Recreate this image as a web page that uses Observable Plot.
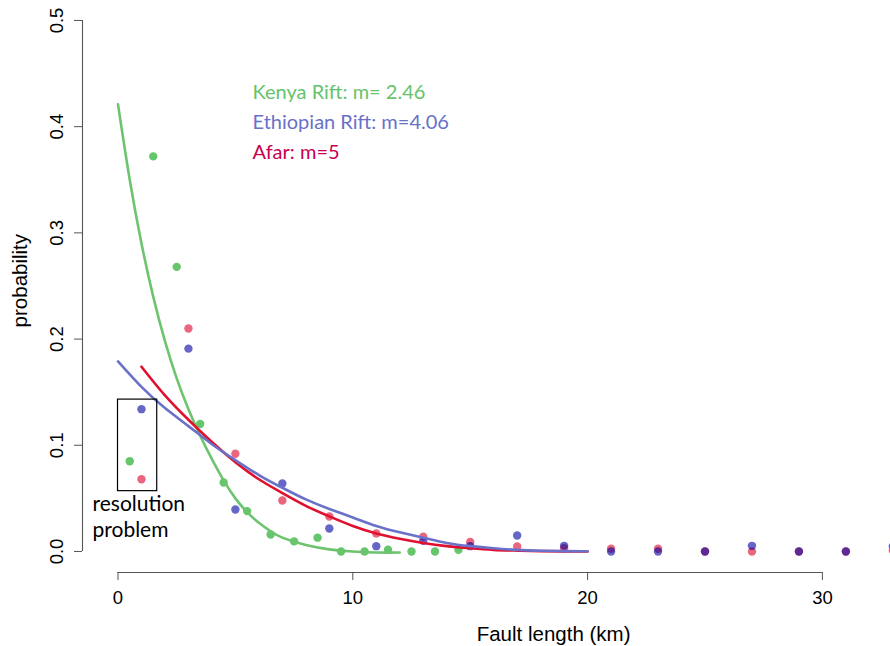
<!DOCTYPE html>
<html>
<head>
<meta charset="utf-8">
<script src="https://cdn.jsdelivr.net/npm/d3@7"></script>
<script src="https://cdn.jsdelivr.net/npm/@observablehq/plot@0.6"></script>
<style>
  html, body { margin: 0; padding: 0; background: #fff; }
  #chart { width: 890px; height: 646px; overflow: hidden; }
</style>
</head>
<body>
<div id="chart"></div>
<script>
// ---- data ----
const kenyaX = [0.5, 1.5, 2.5, 3.5, 4.5, 5.5, 6.5, 7.5, 8.5, 9.5, 10.5, 11.5, 12.5, 13.5, 14.5];
const kenyaP = [0.085, 0.372, 0.268, 0.120, 0.065, 0.038, 0.016, 0.0095, 0.013, 0, 0, 0.0016, 0, 0, 0.0016];

const afarX = [1, 3, 5, 7, 9, 11, 13, 15, 17, 19, 21, 23, 25, 27, 29, 31, 33];
const afarP = [0.068, 0.210, 0.092, 0.048, 0.033, 0.017, 0.014, 0.009, 0.0047, 0.003, 0.0025, 0.0025, 0, 0, 0, 0, 0.001];

const ethX = [1, 3, 5, 7, 9, 11, 13, 15, 17, 19, 21, 23, 25, 27, 29, 31, 33];
const ethP = [0.134, 0.191, 0.0395, 0.064, 0.0216, 0.005, 0.010, 0.005, 0.015, 0.0053, 0, 0, 0, 0.0053, 0, 0, 0.005];

// fitted curves
const kenyaFitX = [0, 0.5, 1, 1.5, 2, 2.5, 3, 3.5, 4, 4.5, 5, 5.5, 6, 6.5, 7, 8, 9, 10, 11, 12];
const kenyaFitP = [0.421, 0.350, 0.290, 0.240, 0.198, 0.163, 0.134, 0.109, 0.087, 0.067, 0.050, 0.037, 0.027, 0.019, 0.013, 0.006, 0.002, 0.0, -0.001, -0.001];

const ethFitX = [0, 1, 2, 3, 4, 5, 6, 7, 8, 9, 10, 11, 12, 13, 14, 15, 16, 17, 18, 19, 20];
const ethFitP = [0.179, 0.155, 0.135, 0.118, 0.101, 0.086, 0.072, 0.060, 0.049, 0.040, 0.032, 0.024, 0.018, 0.013, 0.008, 0.005, 0.003, 0.0015, 0.0007, 0.0003, 0.0002];

const afarFitX = [1, 2, 3, 4, 5, 6, 7, 8, 9, 10, 11, 12, 13, 14, 15, 16, 17, 18, 19, 20];
const afarFitP = [0.174, 0.147, 0.124, 0.103, 0.084, 0.068, 0.055, 0.043, 0.033, 0.024, 0.017, 0.012, 0.008, 0.005, 0.003, 0.0015, 0.0008, 0.0003, 0.0001, 0.0];

const xTicks = [0, 10, 20, 30];
const yTicks = [0, 0.1, 0.2, 0.3, 0.4, 0.5];

const legendLabels = ["Kenya Rift: m= 2.46", "Ethiopian Rift: m=4.06", "Afar: m=5"];
const noteLines = ["resolution", "problem"];
const xLabel = "Fault length (km)";
const yLabel = "probability";

// ---- styles ----
const cKenyaPt = "rgba(0,160,10,0.6)";
const cAfarPt = "rgba(220,0,40,0.6)";
const cEthPt = "rgba(0,0,160,0.6)";
const cKenyaLine = "#6cc46e";
const cEthLine = "#6a71c9";
const cAfarLine = "#e0102f";
const legendColors = ["#66c36b", "#6a70c8", "#c8004f"];

const toRows = (xs, ys) => xs.map((x, i) => ({x, p: ys[i]}));
const kenya = toRows(kenyaX, kenyaP);
const afar = toRows(afarX, afarP);
const eth = toRows(ethX, ethP);
const kenyaFit = toRows(kenyaFitX, kenyaFitP);
const ethFit = toRows(ethFitX, ethFitP);
const afarFit = toRows(afarFitX, afarFitP);

const xDomain = [-1.512, 32.90];
const yDomain = [-0.0198, 0.5188];
const axisFont = "'Liberation Sans', Arial, Helvetica, sans-serif";
const noteFont = "Lato, 'Open Sans', sans-serif";

const legendRows = legendLabels.map((t, i) => ({t, i, y: 0.4256 - i * 0.0279}));
const noteRows = noteLines.map((t, i) => ({t, y: 0.0377 - i * 0.0245}));

const chart = Plot.plot({
  width: 890,
  height: 646,
  marginLeft: 82,
  marginRight: 0,
  marginTop: 0,
  marginBottom: 74,
  x: {domain: xDomain, axis: null},
  y: {domain: yDomain, axis: null},
  style: {fontFamily: axisFont, background: "#fff", color: "#000", overflow: "visible"},
  marks: [
    // axes
    Plot.ruleY([yDomain[0]], {x1: d3.min(xTicks), x2: d3.max(xTicks), stroke: "#555", strokeWidth: 1.1}),
    Plot.ruleX([xDomain[0]], {y1: d3.min(yTicks), y2: d3.max(yTicks), stroke: "#555", strokeWidth: 1.1}),
    Plot.axisX({ticks: xTicks, tickSize: 8, tickPadding: 10, fontSize: 18.5, stroke: "#555", tickFormat: d3.format("d"), fontFamily: axisFont}),
    Plot.axisY({ticks: yTicks, tickSize: 8, tickPadding: 12, tickRotate: -90, fontSize: 18.5, stroke: "#555", tickFormat: d3.format(".1f"), fontFamily: axisFont}),
    Plot.text([xLabel], {x: 18.55, y: -0.078, text: d => d, fontSize: 20.5, fontFamily: axisFont}),
    Plot.text([yLabel], {x: -4.15, y: 0.255, text: d => d, rotate: -90, fontSize: 20.5, fontFamily: axisFont}),

    // points
    Plot.dot(kenya, {x: "x", y: "p", r: 4.2, fill: cKenyaPt, stroke: "none"}),
    Plot.dot(afar, {x: "x", y: "p", r: 4.2, fill: cAfarPt, stroke: "none"}),
    Plot.dot(eth, {x: "x", y: "p", r: 4.2, fill: cEthPt, stroke: "none"}),

    // fitted curves
    Plot.line(kenyaFit, {x: "x", y: "p", stroke: cKenyaLine, strokeWidth: 2.6, curve: "natural"}),
    Plot.line(afarFit, {x: "x", y: "p", stroke: cAfarLine, strokeWidth: 2.6, curve: "natural"}),
    Plot.line(ethFit, {x: "x", y: "p", stroke: cEthLine, strokeWidth: 2.6, curve: "natural"}),

    // resolution box and note
    Plot.rect([{x1: 0, x2: 1.67, y1: 0.0568, y2: 0.143}], {x1: "x1", x2: "x2", y1: "y1", y2: "y2", fill: "none", stroke: "#000", strokeWidth: 1.2}),
    Plot.text(noteRows, {x: -1.086, y: "y", text: "t", textAnchor: "start", lineAnchor: "bottom", fontSize: 21, fontFamily: noteFont, fill: "#000"}),

    // legend annotations
    Plot.text(legendRows, {x: 5.73, y: "y", text: "t", textAnchor: "start", lineAnchor: "bottom", fontSize: 20, fontFamily: noteFont, fill: d => legendColors[d.i]})
  ]
});
document.getElementById("chart").appendChild(chart);
</script>
</body>
</html>
